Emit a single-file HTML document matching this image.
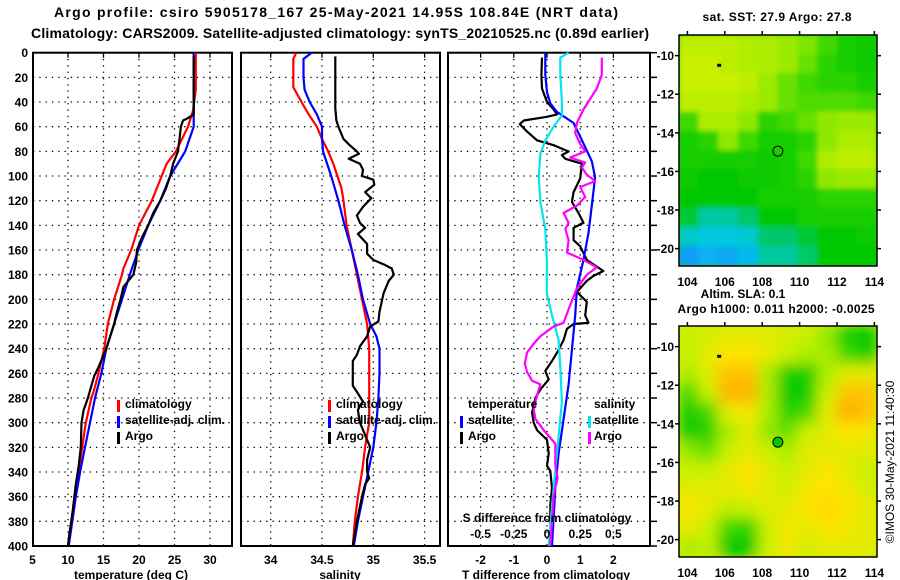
<!DOCTYPE html>
<html><head><meta charset="utf-8">
<style>
html,body{margin:0;padding:0;background:#fff;}
svg{display:block;font-family:"Liberation Sans",Arial,sans-serif;font-weight:bold;}
</style></head>
<body>
<svg id="chart" width="900" height="580" viewBox="0 0 900 580" xmlns="http://www.w3.org/2000/svg">
<rect x="0" y="0" width="900" height="580" fill="#fff"/>
<text x="336" y="17" font-size="14" text-anchor="middle" textLength="564" lengthAdjust="spacing">Argo profile: csiro 5905178_167 25-May-2021 14.95S 108.84E (NRT data)</text>
<text x="340" y="38" font-size="14" text-anchor="middle" textLength="618" lengthAdjust="spacing">Climatology: CARS2009. Satellite-adjusted climatology: synTS_20210525.nc (0.89d earlier)</text>
<defs>
<filter id="blurSST" x="-5%" y="-5%" width="110%" height="110%"><feGaussianBlur stdDeviation="2.5"/></filter>
<filter id="blurSLA" x="-5%" y="-5%" width="110%" height="110%"><feGaussianBlur stdDeviation="7"/></filter>
<clipPath id="clipTop"><rect x="679" y="35" width="198" height="231"/></clipPath>
<clipPath id="clipBot"><rect x="679" y="326" width="198" height="231"/></clipPath>
</defs>
<g id="layer"></g>
<text transform="translate(894,462) rotate(-90)" font-size="12" font-weight="normal" text-anchor="middle">©IMOS 30-May-2021 11:40:30</text>
</svg>
<script>
// ---------- data ----------
const depthTicks = [0,20,40,60,80,100,120,140,160,180,200,220,240,260,280,300,320,340,360,380,400];
const tTicks = [5,10,15,20,25,30];
const sTicks = [34,34.5,35,35.5];
const sTickLabels = ["34","34.5","35","35.5"];
const dTTicks = [-2,-1,0,1,2];
const dSTicks = [-0.5,-0.25,0,0.25,0.5];
const dSTickLabels = ["-0.5","-0.25","0","0.25","0.5"];

const tClimDepth = [0,30,47,60,80,90,100,120,140,160,175,180,200,220,240,260,275,280,300,320,340,360,380,400];
const tClim = [28.0,28.0,27.6,26.9,25.2,23.9,23.2,21.8,20.0,18.9,17.8,17.6,16.5,15.6,15.1,14.3,13.6,13.3,12.5,12.0,11.5,10.9,10.5,10.0];
const tSatDepth = [0,60,80,100,120,140,160,180,200,220,240,260,280,300,320,340,360,380,400];
const tSat = [27.7,27.7,26.5,24.4,23.0,21.3,19.9,18.7,17.6,16.5,15.4,14.7,13.8,13.1,12.4,11.7,11.1,10.6,10.1];
const tArgoDepth = [3,50,53,55,60,70,80,90,100,110,120,130,140,150,160,170,180,190,200,210,220,240,255,262,270,280,290,300,320,335,350,370,390,400];
const tArgo = [27.7,27.7,26.9,26.2,25.9,25.7,25.5,24.8,24.4,23.8,23.0,22.0,21.3,20.4,19.7,19.6,19.2,17.8,17.4,16.9,16.5,15.4,14.3,13.7,13.3,12.8,12.2,11.9,11.8,11.5,11.1,10.7,10.2,10.0];

const sClimDepth = [0,5,28,40,50,60,70,80,90,100,110,120,140,160,180,200,220,240,300,310,320,340,360,380,400];
const sClim = [34.25,34.22,34.22,34.30,34.37,34.45,34.50,34.56,34.61,34.65,34.69,34.71,34.74,34.79,34.84,34.89,34.94,34.96,34.96,34.94,34.92,34.89,34.85,34.82,34.80];
const sSatDepth = [0,5,20,30,40,50,60,70,80,100,120,140,160,180,200,220,230,240,260,280,300,320,340,360,380,400];
const sSat = [34.40,34.32,34.32,34.33,34.38,34.45,34.50,34.50,34.51,34.59,34.66,34.72,34.79,34.85,34.90,34.97,35.03,35.06,35.06,35.05,35.03,35.00,34.95,34.90,34.85,34.81];
const sArgoDepth = [3,45,55,60,70,75,80,82,86,90,95,100,103,107,113,118,125,132,138,142,147,155,163,168,172,175,180,185,195,210,218,222,230,238,245,250,270,275,283,286,290,300,310,320,330,340,345,350,360,380,400];
const sArgo = [34.63,34.63,34.64,34.66,34.71,34.77,34.84,34.86,34.76,34.87,34.90,34.89,35.00,35.01,34.92,34.98,34.90,34.84,34.87,34.92,34.85,34.94,34.94,35.00,35.11,35.18,35.20,35.15,35.10,35.06,35.05,34.97,34.94,34.87,34.84,34.80,34.80,34.84,34.90,34.87,34.85,34.87,34.92,34.97,34.94,34.94,34.96,34.92,34.89,34.84,34.80];

const dTArgoDepth = [4,18,29,40,46,50,52,55,58,64,71,75,79,80,83,86,90,102,113,121,130,138,142,152,157,168,177,181,185,194,202,213,219,220,224,233,241,250,258,265,273,280,292,300,306,314,325,335,339,353,367,381,400];
const dTArgo = [-0.15,-0.17,-0.15,0,0.2,0.3,0,-0.7,-0.82,-0.6,-0.3,0.2,0.55,0.65,0.45,0.55,1.05,1.0,0.8,0.75,0.95,1.1,0.8,0.8,1.0,1.2,1.7,1.4,1.2,0.9,1.2,1.15,1.25,0.8,0.6,0.5,0.35,0.15,-0.05,0.05,-0.2,-0.35,-0.45,-0.4,-0.3,0,0.05,0,0.1,0.15,0.1,0.1,0.15];
const dTSatDepth = [0,18,32,41,48,57,68,88,101,124,146,168,191,213,241,269,297,325,353,400];
const dTSat = [-0.05,-0.05,0,0.1,0.3,0.8,1.0,1.35,1.45,1.35,1.25,1.1,0.9,0.85,0.75,0.65,0.5,0.35,0.25,0.15];
const dSSatDepth = [0,4,18,40,51,60,71,82,101,121,143,171,185,196,213,233,255,283,311,339,367,400];
const dSSat = [0.1625,0.1,0.1,0.1125,0.1125,0.05,-0.0125,-0.05,-0.0625,-0.05,-0.0125,0,-0.0025,0,0.0375,0.0875,0.1,0.1125,0.0875,0.0625,0.0375,0.0125];
const dSArgoDepth = [4,18,29,46,57,65,74,80,85,89,93,99,104,109,117,124,130,138,143,152,162,168,174,180,191,208,219,222,230,236,243,252,259,266,269,278,289,297,306,317,334,345,359,381,400];
const dSArgo = [0.4125,0.4125,0.375,0.275,0.225,0.2125,0.25,0.2875,0.175,0.2875,0.2625,0.3,0.3625,0.25,0.2875,0.225,0.125,0.1625,0.1375,0.1625,0.15,0.275,0.375,0.3,0.225,0.1625,0.125,0.05,-0.05,-0.1,-0.15,-0.1675,-0.15,-0.1125,-0.05,-0.075,-0.1,-0.0875,-0.025,0.0625,0.0625,0.08,0.05,0.0375,0.025];

const lonTicks = [104,106,108,110,112,114];
const latTicks = [-10,-12,-14,-16,-18,-20];
const sstGrid = [
[0.78,0.78,0.78,0.76,0.75,0.72,0.68,0.6,0.5,0.48],
[0.8,0.8,0.78,0.76,0.75,0.72,0.65,0.55,0.5,0.48],
[0.8,0.8,0.8,0.78,0.72,0.65,0.6,0.55,0.55,0.5],
[0.78,0.78,0.78,0.75,0.72,0.65,0.62,0.62,0.62,0.6],
[0.6,0.75,0.75,0.7,0.55,0.6,0.65,0.7,0.72,0.72],
[0.5,0.55,0.7,0.6,0.5,0.5,0.55,0.7,0.75,0.75],
[0.5,0.5,0.5,0.5,0.48,0.5,0.6,0.75,0.78,0.78],
[0.48,0.45,0.45,0.48,0.48,0.5,0.55,0.7,0.72,0.72],
[0.45,0.45,0.45,0.45,0.5,0.5,0.5,0.55,0.55,0.55],
[0.4,0.3,0.3,0.35,0.45,0.45,0.5,0.5,0.5,0.5],
[0.22,0.16,0.16,0.2,0.35,0.35,0.4,0.45,0.45,0.48],
[0.06,0.1,0.08,0.12,0.3,0.3,0.35,0.45,0.45,0.45]];
const slaGrid = [
[0.8,0.82,0.85,0.85,0.85,0.82,0.8,0.7,0.5,0.45],
[0.8,0.85,0.9,0.9,0.85,0.8,0.75,0.75,0.6,0.5],
[0.75,0.85,0.95,0.95,0.75,0.5,0.5,0.75,0.85,0.85],
[0.6,0.8,0.97,0.97,0.75,0.46,0.5,0.8,0.95,0.95],
[0.5,0.6,0.85,0.88,0.75,0.55,0.6,0.85,0.98,0.95],
[0.48,0.55,0.75,0.85,0.7,0.65,0.8,0.85,0.9,0.88],
[0.7,0.65,0.8,0.85,0.8,0.75,0.85,0.85,0.85,0.85],
[0.8,0.8,0.85,0.9,0.85,0.8,0.85,0.9,0.85,0.8],
[0.85,0.85,0.85,0.88,0.85,0.82,0.88,0.9,0.88,0.82],
[0.9,0.85,0.78,0.8,0.85,0.85,0.9,0.92,0.9,0.85],
[0.85,0.8,0.6,0.55,0.8,0.88,0.85,0.9,0.88,0.85],
[0.75,0.78,0.45,0.45,0.8,0.88,0.82,0.85,0.85,0.85]];
const floatLon = 108.84, floatLat = -14.95;
const prevLon = 105.7, prevLat = -10.5;

// ---------- helpers ----------
const NS = "http://www.w3.org/2000/svg";
const layer = document.getElementById('layer');
function mk(tag, attrs, parent) {
  const e = document.createElementNS(NS, tag);
  for (const k in attrs) e.setAttribute(k, attrs[k]);
  (parent || layer).appendChild(e);
  return e;
}
const TOP = 52.7, BOT = 546;
const yD = d => TOP + d * (BOT - TOP) / 400;
const xT = t => 32.5 + (t - 5) * 7.1;
const xS = s => 270.7 + (s - 34) * 102.6;
const xDT = v => 547 + v * 33.2;
const xDS = v => 547 + v * 4 * 33.2;

const panels = [
  {x0:33, x1:232, name:'temperature-panel'},
  {x0:241, x1:440, name:'salinity-panel'},
  {x0:448, x1:650, name:'difference-panel'}
];
function gridAndFrame(p, xs) {
  const g = mk('g', {});
  
  
  depthTicks.forEach(d => {
    if (d === 0 || d === 400) return;
    const l = mk('line', {x1:p.x0, x2:p.x1, y1:yD(d), y2:yD(d), stroke:'#000', 'stroke-width':1.3, 'stroke-dasharray':'1.3 5'}, g);
    
    
  });
  xs.forEach(x => {
    if (x <= p.x0 + 1 || x >= p.x1 - 1) return;
    const l = mk('line', {x1:x, x2:x, y1:TOP, y2:BOT, stroke:'#000', 'stroke-width':1.3, 'stroke-dasharray':'1.3 5'}, g);
    
    
    const tk = mk('line', {x1:x, x2:x, y1:TOP, y2:TOP + 5, stroke:'#000', 'stroke-width':1.3}, g);
    
    
  });
  const r = mk('rect', {x:p.x0, y:TOP, width:p.x1 - p.x0, height:BOT - TOP, fill:'none', stroke:'#000', 'stroke-width':2}, g);
  
  
  return g;
}
function line(depths, vals, xf, color, name) {
  const pts = depths.map((d, i) => xf(vals[i]).toFixed(1) + ',' + yD(d).toFixed(1)).join(' ');
  const pl = mk('polyline', {points:pts, fill:'none', stroke:color, 'stroke-width':2.2, 'stroke-linejoin':'round'});
  
  
}
function text(x, y, s, anchor, size, name, len) {
  const t = mk('text', {x:x, y:y, 'font-size':size || 12, 'text-anchor':anchor || 'start'});
  if (len) { t.setAttribute('textLength', len); t.setAttribute('lengthAdjust', 'spacing'); }
  t.textContent = s;
  
  
  return t;
}
function legendBar(x, y, color) {
  const r = mk('rect', {x:x, y:y - 10, width:3, height:12, fill:color});
  
  
}

// ---------- panels ----------
gridAndFrame(panels[0], tTicks.map(xT));
gridAndFrame(panels[1], sTicks.map(xS));
gridAndFrame(panels[2], dTTicks.map(xDT));

depthTicks.forEach(d => text(28, yD(d) + 4.5, String(d), 'end', 12, 'depth-tick-label'));
depthTicks.forEach(d => {
  const l = mk('line', {x1:650, x2:657, y1:yD(d), y2:yD(d), stroke:'#000', 'stroke-width':1.5});
  
  
});

tTicks.forEach(t => text(xT(t), 564, String(t), 'middle', 12, 'temperature-tick-label'));
sTicks.forEach((s, i) => text(xS(s), 564, sTickLabels[i], 'middle', 12, 'salinity-tick-label'));
dTTicks.forEach(v => text(xDT(v), 564, String(v), 'middle', 12, 'tdiff-tick-label'));
text(131, 579, 'temperature (deg C)', 'middle', 12, 'temperature-axis-title');
text(340, 579, 'salinity', 'middle', 12, 'salinity-axis-title');
text(546, 579, 'T difference from climatology', 'middle', 12, 'tdiff-axis-title');

// series
line(tClimDepth, tClim, xT, '#ff0000', 'temperature-climatology-line');
line(tSatDepth, tSat, xT, '#0000ff', 'temperature-satellite-line');
line(tArgoDepth, tArgo, xT, '#000000', 'temperature-argo-line');
line(sClimDepth, sClim, xS, '#ff0000', 'salinity-climatology-line');
line(sSatDepth, sSat, xS, '#0000ff', 'salinity-satellite-line');
line(sArgoDepth, sArgo, xS, '#000000', 'salinity-argo-line');
line(dTArgoDepth, dTArgo, xDT, '#000000', 'tdiff-argo-line');
line(dTSatDepth, dTSat, xDT, '#0000ff', 'tdiff-satellite-line');
line(dSSatDepth, dSSat, xDS, '#00e5ee', 'sdiff-satellite-line');
line(dSArgoDepth, dSArgo, xDS, '#ff00ff', 'sdiff-argo-line');

// legends
[[117, 'temperature-legend'], [328, 'salinity-legend']].forEach(([lx, nm]) => {
  legendBar(lx, 410, '#ff0000');
  text(lx + 8, 408, 'climatology', 'start', 12, nm + '-climatology');
  legendBar(lx, 426, '#0000ff');
  text(lx + 8, 424, 'satellite-adj. clim.', 'start', 12, nm + '-satellite');
  legendBar(lx, 442, '#000000');
  text(lx + 8, 440, 'Argo', 'start', 12, nm + '-argo');
});
text(468, 408, 'temperature', 'start', 12, 'diff-legend-temperature-heading');
legendBar(460, 426, '#0000ff'); text(468, 424, 'satellite', 'start', 12, 'diff-legend-t-satellite');
legendBar(460, 442, '#000000'); text(468, 440, 'Argo', 'start', 12, 'diff-legend-t-argo');
text(594, 408, 'salinity', 'start', 12, 'diff-legend-salinity-heading');
legendBar(588, 426, '#00e5ee'); text(594, 424, 'satellite', 'start', 12, 'diff-legend-s-satellite');
legendBar(588, 442, '#ff00ff'); text(594, 440, 'Argo', 'start', 12, 'diff-legend-s-argo');
text(547, 522, 'S difference from climatology', 'middle', 12, 'sdiff-axis-title');
dSTicks.forEach((v, i) => text(xDS(v), 538, dSTickLabels[i], 'middle', 12, 'sdiff-tick-label'));

// ---------- maps ----------
const MX0 = 679, MX1 = 877, LON0 = 103.55, LON1 = 114.14;
const LAT0 = -8.93, LAT1 = -20.9;
const xLon = lon => MX0 + (lon - LON0) * (MX1 - MX0) / (LON1 - LON0);
const stops = [[0,[20,130,255]],[0.15,[0,200,230]],[0.3,[0,200,160]],[0.45,[0,200,0]],[0.6,[64,216,0]],[0.7,[144,232,0]],[0.8,[200,240,0]],[0.9,[255,228,0]],[1,[255,160,0]]];
function cmap(v) {
  for (let i = 1; i < stops.length; i++) {
    if (v <= stops[i][0]) {
      const a = stops[i-1], b = stops[i], f = (v - a[0]) / (b[0] - a[0]);
      const c = a[1].map((x, k) => Math.round(x + (b[1][k] - x) * f));
      return 'rgb(' + c.join(',') + ')';
    }
  }
  return 'rgb(255,160,0)';
}
function drawMap(my0, my1, grid, filt, clip, bg, name, filled) {
  const yLat = lat => my0 + (LAT0 - lat) * (my1 - my0) / (LAT0 - LAT1);
  const g = mk('g', {'clip-path':'url(#' + clip + ')'});
  
  
  mk('rect', {x:MX0, y:my0, width:MX1 - MX0, height:my1 - my0, fill:bg}, g);
  const cells = mk('g', {filter:'url(#' + filt + ')'}, g);
  const rows = grid.length, cols = grid[0].length;
  const cw = (MX1 - MX0) / cols, ch = (my1 - my0) / rows;
  grid.forEach((row, r) => row.forEach((v, c) => {
    const rc = mk('rect', {x:(MX0 + c * cw - 0.5).toFixed(1), y:(my0 + r * ch - 0.5).toFixed(1), width:(cw + 1).toFixed(1), height:(ch + 1).toFixed(1), fill:cmap(v)}, cells);
    
    
  }));
  const fr = mk('rect', {x:MX0, y:my0, width:MX1 - MX0, height:my1 - my0, fill:'none', stroke:'#000', 'stroke-width':1.5});
  
  
  latTicks.forEach(l => {
    text(674, yLat(l) + 4.5, String(l), 'end', 12, 'latitude-tick-label');
    const t1 = mk('line', {x1:MX0 - 4, x2:MX0, y1:yLat(l), y2:yLat(l), stroke:'#000', 'stroke-width':1.5});
    
    
    const t2 = mk('line', {x1:MX1, x2:MX1 + 4, y1:yLat(l), y2:yLat(l), stroke:'#000', 'stroke-width':1.5});
    
    
  });
  lonTicks.forEach(l => {
    text(xLon(l), my1 + 20, String(l), 'middle', 12, 'longitude-tick-label');
    const t1 = mk('line', {x1:xLon(l), x2:xLon(l), y1:my0 - 4, y2:my0, stroke:'#000', 'stroke-width':1.5});
    
    
  });
  const c = mk('circle', {cx:xLon(floatLon), cy:yLat(floatLat), r:5, fill:filled ? '#00c800' : 'none', stroke:'#000', 'stroke-width':1});
  
  
  const p = mk('rect', {x:xLon(prevLon) - 2, y:yLat(prevLat) - 1.5, width:4, height:3, fill:'#000'});
  
  
}
drawMap(35, 266, sstGrid, 'blurSST', 'clipTop', cmap(0.55), 'sst-map', false);
drawMap(326, 557, slaGrid, 'blurSLA', 'clipBot', cmap(0.82), 'sla-map', true);
text(777, 21, 'sat. SST: 27.9 Argo: 27.8', 'middle', 12, 'sst-map-title', 149);
text(743, 298, 'Altim. SLA: 0.1', 'middle', 12, 'sla-map-title');
text(776, 313, 'Argo h1000: 0.011 h2000: -0.0025', 'middle', 12, 'sla-map-subtitle', 197);
</script>
</body></html>
